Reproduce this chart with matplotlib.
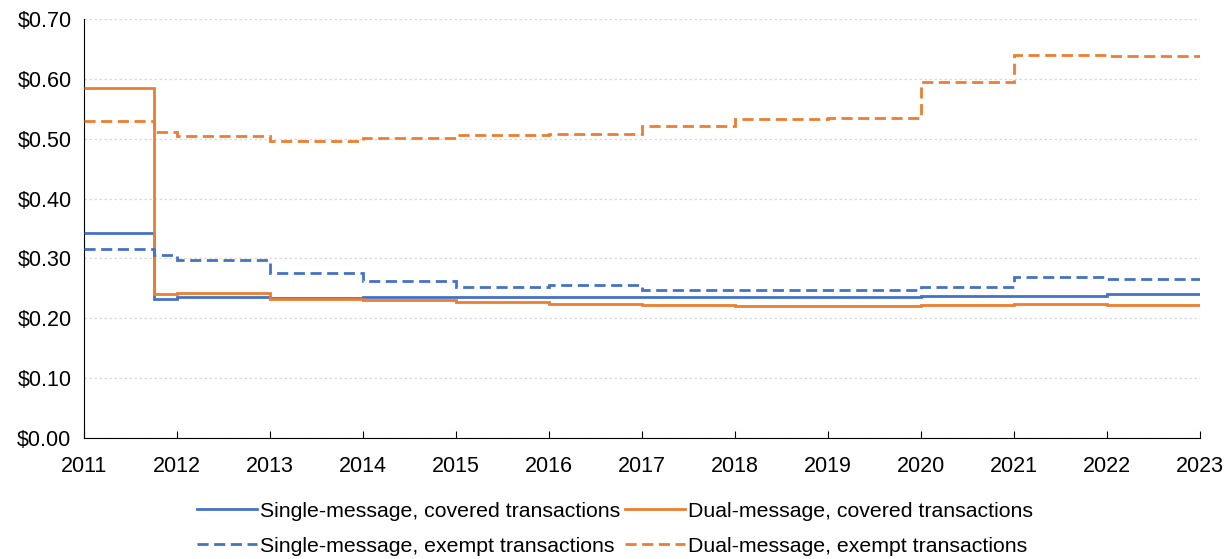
import matplotlib
matplotlib.use("Agg")
import matplotlib.pyplot as plt
from matplotlib.ticker import FuncFormatter, MultipleLocator
from matplotlib.lines import Line2D

# Period edges: Jan 2011, Oct 2011 (Regulation II), then each year to 2023
edges = [2011, 2011.75, 2012, 2013, 2014, 2015, 2016, 2017, 2018, 2019, 2020, 2021, 2022, 2023]
years = list(range(2011, 2024))

single_covered = [0.343, 0.233, 0.236, 0.234, 0.235, 0.235, 0.235, 0.235, 0.235, 0.235, 0.237, 0.238, 0.240]
dual_covered   = [0.585, 0.240, 0.243, 0.232, 0.231, 0.228, 0.224, 0.223, 0.2205, 0.2205, 0.222, 0.224, 0.222]
single_exempt  = [0.316, 0.306, 0.297, 0.275, 0.263, 0.253, 0.255, 0.247, 0.248, 0.248, 0.253, 0.269, 0.266]
dual_exempt    = [0.530, 0.511, 0.505, 0.496, 0.502, 0.506, 0.508, 0.521, 0.533, 0.534, 0.595, 0.640, 0.638]

labels = ["Single-message, covered transactions", "Dual-message, covered transactions",
          "Single-message, exempt transactions", "Dual-message, exempt transactions"]

BLUE = "#4472C4"
ORANGE = "#ED7D31"

plt.rcParams['font.family'] = ['Liberation Sans', 'DejaVu Sans']

fig = plt.figure(figsize=(12.30, 5.59), dpi=100)
ax = fig.add_axes([0.0683, 0.2165, 0.9073, 0.7495])

lw = 2.0
dash = (0, (4, 2))
ax.stairs(single_covered, edges, color=BLUE, lw=lw, baseline=None, zorder=3)
ax.stairs(dual_covered, edges, color=ORANGE, lw=lw, baseline=None, zorder=3)
ax.stairs(single_exempt, edges, color=BLUE, lw=lw, linestyle=dash, baseline=None, zorder=3)
ax.stairs(dual_exempt, edges, color=ORANGE, lw=lw, linestyle=dash, baseline=None, zorder=3)

ax.set_xlim(2011, 2023)
ax.set_ylim(0, 0.70)
ax.set_xticks(years)
ax.set_xticklabels([str(y) for y in years])
ax.yaxis.set_major_locator(MultipleLocator(0.1))
ax.yaxis.set_major_formatter(FuncFormatter(lambda v, p: f"${v:.2f}"))

ax.grid(axis='y', color='#d9d9d9', linestyle=(0, (2, 2)), lw=0.9, zorder=0)
for s in ['top', 'right']:
    ax.spines[s].set_visible(False)
ax.spines['left'].set_color('black')
ax.spines['bottom'].set_color('black')
ax.tick_params(axis='y', length=0, labelsize=15.5, pad=9)
ax.tick_params(axis='x', direction='in', length=5, labelsize=15.5, pad=13)

handles = [Line2D([], [], color=BLUE, lw=lw),
           Line2D([], [], color=BLUE, lw=lw, linestyle=dash),
           Line2D([], [], color=ORANGE, lw=lw),
           Line2D([], [], color=ORANGE, lw=lw, linestyle=dash)]
leg_labels = [labels[0], labels[2], labels[1], labels[3]]
fig.legend(handles, leg_labels, loc='lower center', bbox_to_anchor=(0.5, -0.028), ncol=2,
           frameon=False, fontsize=15.3, handlelength=2.8, handletextpad=0.15, columnspacing=0.25,
           labelspacing=0.75)

fig.savefig("out.png", dpi=100)
